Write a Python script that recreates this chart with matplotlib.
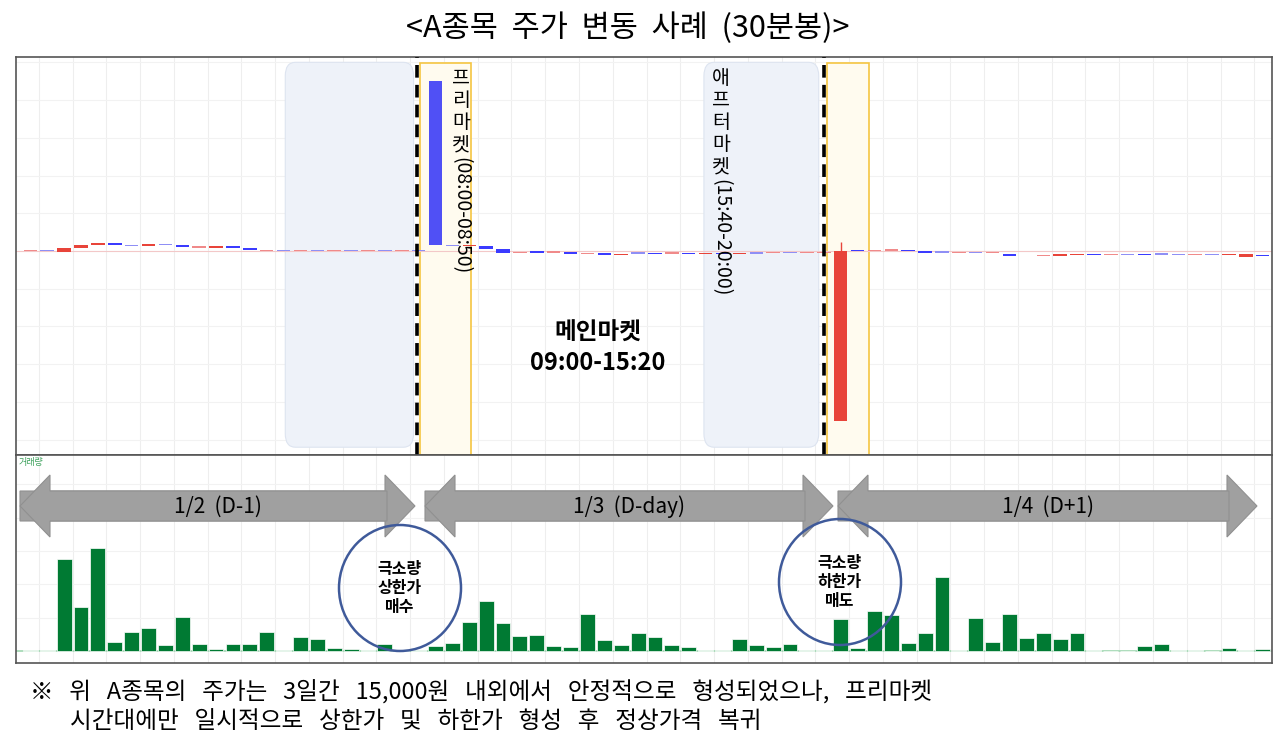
import matplotlib
matplotlib.use("Agg")
import matplotlib.pyplot as plt
from matplotlib import patches
import numpy as np

plt.rcParams['font.family'] = ['Noto Sans CJK KR', 'DejaVu Sans']

# ---- data ----
opens = [15000,15010,14980,15080,15150,15220,15150,15120,15180,15160,15100,15090,15140,15090,15010,
         15020,15010,15020,15010,15020,15010,15020,15010,15010,19500,15150,15130,15120,15040,14960,
         14990,14970,14980,14930,14940,14900,14950,14950,14940,14960,14920,14960,14930,14950,14960,
         14970,14950,14960,10500,15020,15000,15020,15030,14990,14980,14960,14970,14960,14920,14880,
         14880,14870,14900,14920,14900,14900,14930,14930,14920,14900,14910,14900,14850,14900]
closes = [15010,15000,15080,15150,15220,15150,15140,15180,15170,15110,15110,15140,15080,15020,15020,
          15010,15020,15010,15020,15010,15020,15010,15020,15000,15150,15140,15150,15050,14960,14970,
          14940,14980,14930,14940,14900,14930,14940,14920,14950,14920,14950,14930,14960,14950,14970,
          14960,14960,14970,15000,15000,15010,15030,15010,14960,14970,14970,14960,14970,14880,14860,
          14890,14910,14930,14900,14910,14900,14900,14920,14910,14910,14900,14930,14920,14860]
volume = [2,2,275,133,310,26,57,68,18,103,22,6,20,20,57,2,43,37,10,6,2,20,2,2,
          15,25,88,150,83,46,48,16,11,111,32,18,55,
          41,18,13,3,3,37,18,11,20,2,2,97,10,121,109,24,55,222,2,100,28,112,38,55,36,55,
          2,0,0,15,20,2,2,0,10,2,6]
day_labels = ["1/2  (D-1)", "1/3  (D-day)", "1/4  (D+1)"]

n = len(opens)
x = np.arange(n)
W, H = 1280, 744
fig = plt.figure(figsize=(12.8, 7.44), dpi=100)

def rect(l, t, r, b):
    return [l / W, 1 - b / H, (r - l) / W, (b - t) / H]

XL = (-0.85, 73.55)
ax = fig.add_axes(rect(16, 57, 1272, 455))
axv = fig.add_axes(rect(16, 455, 1272, 663))
for a in (ax, axv):
    a.set_xlim(*XL)
    a.set_xticks([]); a.set_yticks([])
    for s in a.spines.values():
        s.set_color('#555555'); s.set_linewidth(1.2)
    for gx in np.arange(0, n, 2) + 0.5:
        a.axvline(gx, color='#eeeeee', lw=0.8, zorder=0)
ax.set_ylim(9594, 20141)
axv.set_ylim(-36, 588)
for gy in np.linspace(10000, 20000, 11):
    ax.axhline(gy, color='#f2f2f2', lw=0.8, zorder=0)
for gy in [100, 200, 300, 400, 500]:
    axv.axhline(gy, color='#f2f2f2', lw=0.8, zorder=0)
ax.axhline(15000, color='#f3c8c8', lw=0.8, zorder=0.5)
axv.axhline(0, color='#9fd7b0', lw=1.2, zorder=0.5)

# shaded sessions
ax.add_patch(patches.FancyBboxPatch((15.1, 9800), 7.6, 10200, boxstyle="round,pad=0,rounding_size=0.6",
             fc='#eef2f9', ec='#dde4f0', lw=0.8, zorder=0.2, mutation_aspect=600))
ax.add_patch(patches.FancyBboxPatch((39.9, 9800), 6.8, 10200, boxstyle="round,pad=0,rounding_size=0.6",
             fc='#eef2f9', ec='#dde4f0', lw=0.8, zorder=0.2, mutation_aspect=600))
ax.add_patch(patches.Rectangle((23.1, 9594), 3.0, 10400, fc='#fffbef', ec='#f5c542', lw=1.2, zorder=0.3))
ax.add_patch(patches.Rectangle((47.2, 9594), 2.45, 10400, fc='#fffbef', ec='#f5c542', lw=1.2, zorder=0.3))
for dx in (22.9, 47.0):
    ax.axvline(dx, color='black', lw=2.6, ls=(0, (3.5, 2)), zorder=3)

# candles
for i in range(n):
    o, c = opens[i], closes[i]
    up = c > o
    col = '#e8443a' if up else '#3b3bff'
    if i == 24:
        col = '#5050f5'
    lo, hi = min(o, c), max(o, c)
    h = hi - lo
    if h < 20:
        col = '#f08a8a' if up else '#8f8ff5'
        lo, h = (o + c) / 2 - 18, 36
    ax.add_patch(patches.Rectangle((i - 0.4, lo), 0.8, h, fc=col, ec='none', zorder=2))
ax.vlines(48, 15000, 15250, color='#e8443a', lw=1, zorder=1.9)

# volume
vcols = ['#a8dcb8' if v <= 3 else '#007a33' for v in volume]
axv.bar(x, volume, width=0.88, color=vcols, edgecolor='white', linewidth=0.5, zorder=2)
axv.text(0.002, 0.985, '거래량', transform=axv.transAxes, fontsize=6.5, color='#3aa05a', va='top')

# overlay
ov = fig.add_axes([0, 0, 1, 1])
ov.set_xlim(0, W); ov.set_ylim(H, 0); ov.axis('off'); ov.patch.set_alpha(0)

ov.text(628, 28, '<A종목  주가  변동  사례  (30분봉)>', fontsize=22, ha='center', va='center')

def vtext(xc, ytop, kor, rest):
    for k, ch in enumerate(kor):
        ov.text(xc, ytop + k * 22, ch, fontsize=14, ha='center', va='top')
    ov.text(xc, ytop + len(kor) * 22 + 1, rest, rotation=-90, fontsize=14, ha='center', va='top')

vtext(461, 68, '프리마켓', '(08:00-08:50)')
vtext(721, 68, '애프터마켓', '(15:40-20:00)')
ov.text(598, 348, '메인마켓\n09:00-15:20', fontsize=17, fontweight='bold', ha='center', va='center',
        linespacing=1.3)

for (l, r), lab in zip([(20, 415), (425, 833), (838, 1257)], day_labels):
    ar = patches.FancyArrow(l, 506, r - l, 0, width=30, head_width=62, head_length=30,
                            length_includes_head=True, fc='#a0a0a0', ec='#909090', lw=0.8, zorder=5)
    ar_rev = patches.FancyArrow(r - 28, 506, -(r - 28 - l), 0, width=30, head_width=62, head_length=30,
                                length_includes_head=True, fc='#a0a0a0', ec='#909090', lw=0.8, zorder=5)
    ov.add_patch(ar); ov.add_patch(ar_rev)
    ov.text((l + r) / 2, 507, lab, fontsize=15, ha='center', va='center', zorder=6)

for cx, cy, t in [(400, 588, '극소량\n상한가\n매수'), (840, 582, '극소량\n하한가\n매도')]:
    ov.add_patch(patches.Ellipse((cx, cy), 122, 126, fc='none', ec='#3f5a9a', lw=1.8, zorder=7))
    ov.text(cx, cy, t, fontsize=11.5, fontweight='bold', ha='center', va='center', zorder=8, linespacing=1.2)

ov.text(30, 692, '※   위   A종목의   주가는   3일간   15,000원   내외에서   안정적으로   형성되었으나,   프리마켓',
        fontsize=17, ha='left', va='center')
ov.text(70, 722, '시간대에만   일시적으로   상한가   및   하한가   형성   후   정상가격   복귀',
        fontsize=17, ha='left', va='center')

fig.savefig('out.png', dpi=100)
